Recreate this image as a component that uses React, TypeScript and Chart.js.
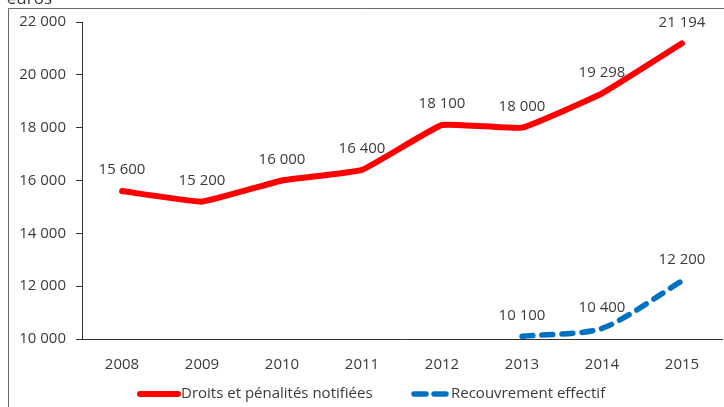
import React, { useEffect, useRef } from "react";
import { Chart, registerables } from "chart.js";

Chart.register(...registerables);

const years = ["2008", "2009", "2010", "2011", "2012", "2013", "2014", "2015"];
const droits = [15600, 15200, 16000, 16400, 18100, 18000, 19298, 21194];
const recouvrement = [null, null, null, null, null, 10100, 10400, 12200];
const seriesNames = ["Droits et pénalités notifiées", "Recouvrement effectif"];
const unitLabel = "euros";

const FONT = "'Open Sans', sans-serif";
const TEXT = "#3a3a3a";

const fmt = (v: number) => {
  const s = String(Math.round(v));
  return s.replace(/\B(?=(\d{3})+(?!\d))/g, " ");
};

const framePlugin = {
  id: "frame",
  beforeDraw(chart: any) {
    const ctx = chart.ctx;
    ctx.save();
    ctx.fillStyle = "#ffffff";
    ctx.fillRect(0, 0, chart.width, chart.height);
    ctx.strokeStyle = "#6a6a6a";
    ctx.lineWidth = 1;
    ctx.beginPath();
    ctx.moveTo(8.5, chart.height);
    ctx.lineTo(8.5, 8.5);
    ctx.lineTo(chart.width, 8.5);
    ctx.stroke();
    ctx.fillStyle = TEXT;
    ctx.font = `17px ${FONT}`;
    ctx.textAlign = "right";
    ctx.textBaseline = "alphabetic";
    ctx.fillText(unitLabel, 52, 4);
    ctx.restore();
  },
};

const labelPlugin = {
  id: "valueLabels",
  afterDatasetsDraw(chart: any) {
    const ctx = chart.ctx;
    ctx.save();
    ctx.font = `15px ${FONT}`;
    ctx.fillStyle = TEXT;
    ctx.textAlign = "center";
    ctx.textBaseline = "middle";
    chart.data.datasets.forEach((ds: any, di: number) => {
      const meta = chart.getDatasetMeta(di);
      meta.data.forEach((pt: any, i: number) => {
        const v = ds.data[i];
        if (v === null || v === undefined) return;
        ctx.fillText(fmt(v), pt.x, pt.y - 21);
      });
    });
    ctx.restore();
  },
};

const legendPlugin = {
  id: "customLegend",
  afterDraw(chart: any) {
    const ctx = chart.ctx;
    const y = 394;
    ctx.save();
    ctx.font = `15px ${FONT}`;
    ctx.fillStyle = TEXT;
    ctx.textAlign = "left";
    ctx.textBaseline = "middle";
    const items = [
      { x: 140, w: 38, color: "#ff0000", width: 6, dash: [] as number[] },
      { x: 414, w: 34, color: "#0070c0", width: 5.5, dash: [12, 8] },
    ];
    items.forEach((it, i) => {
      ctx.strokeStyle = it.color;
      ctx.lineWidth = it.width;
      ctx.lineCap = "round";
      ctx.setLineDash(it.dash);
      ctx.beginPath();
      ctx.moveTo(it.x, y);
      ctx.lineTo(it.x + it.w, y);
      ctx.stroke();
      ctx.setLineDash([]);
      ctx.fillText(seriesNames[i], it.x + it.w + 3, y);
    });
    ctx.restore();
  },
};

export default function App() {
  const ref = useRef<HTMLCanvasElement | null>(null);

  useEffect(() => {
    if (!ref.current) return;
    const chart = new Chart(ref.current, {
      type: "line",
      data: {
        labels: years,
        datasets: [
          {
            label: seriesNames[0],
            data: droits,
            borderColor: "#ff0000",
            backgroundColor: "#ff0000",
            borderWidth: 6,
            pointRadius: 0,
            tension: 0.1,
            borderCapStyle: "round",
            borderJoinStyle: "round",
          },
          {
            label: seriesNames[1],
            data: recouvrement as any,
            borderColor: "#0070c0",
            backgroundColor: "#0070c0",
            borderWidth: 5.5,
            borderDash: [11, 9],
            pointRadius: 0,
            tension: 0.25,
            borderCapStyle: "round",
            borderJoinStyle: "round",
          },
        ],
      },
      options: {
        responsive: false,
        animation: false,
        layout: { padding: { left: 10, top: 22, right: 2, bottom: 38 } },
        plugins: {
          legend: { display: false },
          tooltip: { enabled: false },
        },
        scales: {
          x: {
            offset: true,
            grid: { display: false },
            border: { display: true, color: "#333333", width: 1 },
            ticks: {
              color: TEXT,
              font: { family: FONT, size: 15 },
              padding: 9,
              maxRotation: 0,
            },
            afterFit(scale: any) {
              scale.height = 30;
            },
          },
          y: {
            min: 10000,
            max: 22000,
            grid: {
              display: true,
              drawOnChartArea: false,
              drawTicks: true,
              tickLength: 6,
              color: "#333333",
            },
            border: { display: true, color: "#333333", width: 1 },
            ticks: {
              stepSize: 2000,
              color: TEXT,
              font: { family: FONT, size: 15 },
              padding: 10,
              callback: (v: any) => fmt(Number(v)),
            },
            afterFit(scale: any) {
              scale.width = 72;
            },
          },
        },
      },
      plugins: [framePlugin, labelPlugin, legendPlugin],
    });
    return () => chart.destroy();
  }, []);

  return (
    <div style={{ position: "absolute", left: 0, top: 0, width: 724, height: 407 }}>
      <canvas ref={ref} width={724} height={407} style={{ display: "block", width: 724, height: 407 }} />
    </div>
  );
}
